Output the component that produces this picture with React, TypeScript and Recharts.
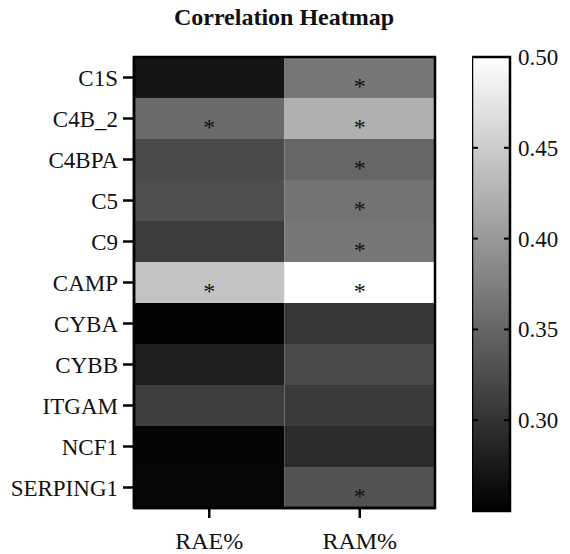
import { BarChart, Bar, XAxis, YAxis, Cell, LabelList, ReferenceArea } from 'recharts';

// Genes (rows) and correlation values for each column
const genes = ['C1S', 'C4B_2', 'C4BPA', 'C5', 'C9', 'CAMP', 'CYBA', 'CYBB', 'ITGAM', 'NCF1', 'SERPING1'];
const columns = ['RAE%', 'RAM%'];
const raeValues = [0.271, 0.355, 0.323, 0.326, 0.309, 0.441, 0.252, 0.279, 0.311, 0.255, 0.256];
const ramValues = [0.367, 0.423, 0.350, 0.362, 0.367, 0.500, 0.303, 0.323, 0.307, 0.293, 0.330];
const raeSignificant = [false, true, false, false, false, true, false, false, false, false, false];
const ramSignificant = [true, true, true, true, true, true, false, false, false, false, true];

// Colour scale
const scaleMin = 0.25;
const scaleMax = 0.5;
const scaleTicks = [0.3, 0.35, 0.4, 0.45, 0.5];

const FONT = 'Liberation Serif';
const CB_WIDTH = 38;

const grayFor = (v: number) => {
  const t = Math.max(0, Math.min(1, (v - scaleMin) / (scaleMax - scaleMin)));
  const g = Math.round(t * 255);
  return `rgb(${g},${g},${g})`;
};

// each row spans one unit per column; fill comes from the value
const rows = genes.map((gene, i) => ({
  gene,
  rae: 1,
  ram: 1,
  raeValue: raeValues[i],
  ramValue: ramValues[i],
  raeStar: raeSignificant[i] ? '*' : '',
  ramStar: ramSignificant[i] ? '*' : '',
}));

const scaleData = [{ name: 'scale', range: [scaleMin, scaleMax] }];

const StarLabel = (props: any) => {
  const { x, y, width, height, value } = props;
  if (!value) return null;
  return (
    <text
      x={x + width / 2}
      y={y + height / 2 + 16}
      textAnchor="middle"
      fontSize={24}
      fontFamily={FONT}
      style={{ fontFamily: FONT }}
      fill="#111"
    >
      {value}
    </text>
  );
};

const GeneTick = (props: any) => {
  const { x, y, payload } = props;
  return (
    <text x={x} y={y} dy="0.35em" textAnchor="end" fontSize={23} fontFamily={FONT} style={{ fontFamily: FONT }} fill="#111">
      {payload.value}
    </text>
  );
};

const ColumnTick = (props: any) => {
  const { x, y, payload } = props;
  return (
    <text x={x} y={y} dy="0.71em" textAnchor="middle" fontSize={24} fontFamily={FONT} style={{ fontFamily: FONT }} fill="#111">
      {columns[Math.floor(payload.value)]}
    </text>
  );
};

const ScaleTick = (props: any) => {
  const { x, y, payload } = props;
  return (
    <g>
      <line x1={0} x2={6} y1={y} y2={y} stroke="#000" strokeWidth={2} />
      <line x1={CB_WIDTH - 6} x2={CB_WIDTH} y1={y} y2={y} stroke="#000" strokeWidth={2} />
      <text x={x} y={y} dy="0.35em" textAnchor="start" fontSize={23} fontFamily={FONT} style={{ fontFamily: FONT }} fill="#111">
        {Number(payload.value).toFixed(2)}
      </text>
    </g>
  );
};

const axisLine = { stroke: '#000', strokeWidth: 2.5 };
const tickLine = { stroke: '#000', strokeWidth: 2.5 };

export default function App() {
  return (
    <div
      style={{
        position: 'absolute',
        left: 0,
        top: 0,
        width: 570,
        height: 554,
        background: '#fff',
        fontFamily: FONT,
      }}
    >
      <svg width={0} height={0} style={{ position: 'absolute' }}>
        <defs>
          <linearGradient id="scaleGradient" x1="0" y1="0" x2="0" y2="1">
            <stop offset="0%" stopColor="#fff" />
            <stop offset="100%" stopColor="#000" />
          </linearGradient>
        </defs>
      </svg>

      <div
        style={{
          position: 'absolute',
          top: 4,
          left: 0,
          width: 568,
          textAlign: 'center',
          fontFamily: FONT,
          fontWeight: 'bold',
          fontSize: 24,
          color: '#111',
        }}
      >
        Correlation Heatmap
      </div>

      {/* heatmap */}
      <div style={{ position: 'absolute', left: 0, top: 0 }}>
        <BarChart
          width={570}
          height={554}
          data={rows}
          layout="vertical"
          barCategoryGap={0}
          margin={{ top: 57, right: 135, left: 0, bottom: 6 }}
        >
          <XAxis
            type="number"
            domain={[0, 2]}
            ticks={[0.5, 1.5]}
            height={40}
            tickSize={10}
            tickMargin={14}
            axisLine={axisLine}
            tickLine={tickLine}
            tick={<ColumnTick />}
          />
          <YAxis
            type="category"
            dataKey="gene"
            width={134}
            tickSize={11}
            tickMargin={5}
            axisLine={axisLine}
            tickLine={tickLine}
            interval={0}
            tick={<GeneTick />}
          />
          <Bar dataKey="rae" stackId="cells" isAnimationActive={false}>
            {rows.map((r) => (
              <Cell key={r.gene} fill={grayFor(r.raeValue)} />
            ))}
            <LabelList dataKey="raeStar" content={<StarLabel />} />
          </Bar>
          <Bar dataKey="ram" stackId="cells" isAnimationActive={false}>
            {rows.map((r) => (
              <Cell key={r.gene} fill={grayFor(r.ramValue)} />
            ))}
            <LabelList dataKey="ramStar" content={<StarLabel />} />
          </Bar>
          {/* frame around the cells */}
          <ReferenceArea
            x1={0}
            x2={2}
            fill="none"
            fillOpacity={0}
            stroke="#000"
            strokeWidth={2.5}
            zIndex={1000}
          />
        </BarChart>
      </div>

      {/* colour scale */}
      <div style={{ position: 'absolute', left: 472, top: 0 }}>
        <BarChart
          width={98}
          height={554}
          data={scaleData}
          barCategoryGap={0}
          margin={{ top: 57, right: 0, left: 0, bottom: 43 }}
        >
          <XAxis dataKey="name" hide />
          <YAxis
            type="number"
            orientation="right"
            domain={[scaleMin, scaleMax]}
            ticks={scaleTicks}
            width={60}
            axisLine={false}
            tickLine={false}
            tickSize={0}
            tickMargin={8}
            tick={<ScaleTick />}
          />
          <Bar
            dataKey="range"
            fill="url(#scaleGradient)"
            stroke="#000"
            strokeWidth={2.5}
            isAnimationActive={false}
          />
        </BarChart>
      </div>
    </div>
  );
}
